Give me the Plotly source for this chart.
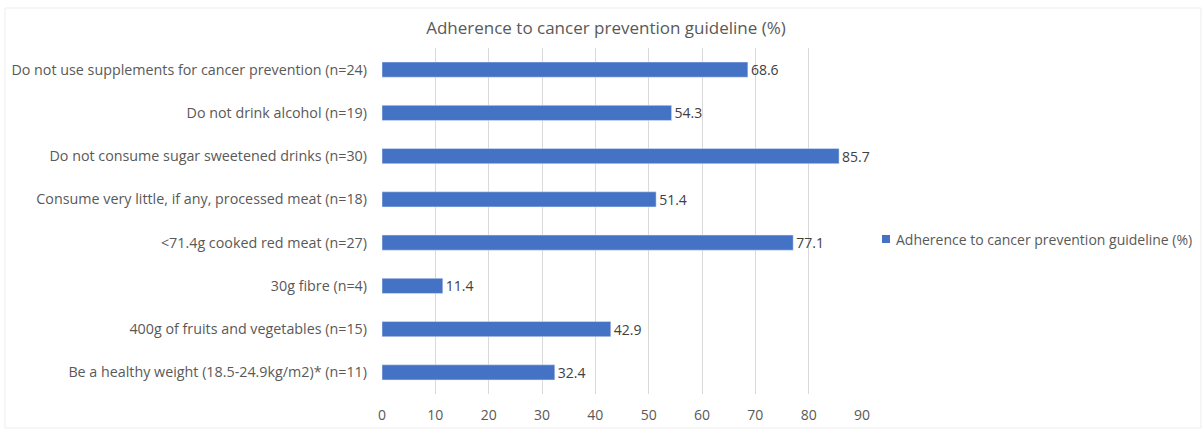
import plotly.graph_objects as go

categories = [
    "Do not use supplements for cancer prevention (n=24)",
    "Do not drink alcohol (n=19)",
    "Do not consume sugar sweetened drinks (n=30)",
    "Consume very little, if any, processed meat (n=18)",
    "<71.4g cooked red meat (n=27)",
    "30g fibre (n=4)",
    "400g of fruits and vegetables (n=15)",
    "Be a healthy weight (18.5-24.9kg/m2)* (n=11)",
]
values = [68.6, 54.3, 85.7, 51.4, 77.1, 11.4, 42.9, 32.4]
series_name = "Adherence to cancer prevention guideline (%)"
x_ticks = [0, 10, 20, 30, 40, 50, 60, 70, 80, 90]

FONT = "Open Sans, sans-serif"
BAR = "#4472C4"

fig = go.Figure(go.Bar(
    y=categories[::-1],
    x=values[::-1],
    orientation="h",
    name=series_name,
    marker=dict(color=BAR),
    width=0.35,
    text=[f"{v:.1f}" for v in values[::-1]],
    textposition="outside",
    constraintext="none",
    textfont=dict(size=14, color="#404040", family=FONT),
    cliponaxis=False,
    showlegend=False,
))

W, H = 1203, 429
L, R, T, B = 382, 341, 48, 35
pw, ph = W - L - R, H - T - B

def px_x(p):
    return (p - L) / pw

def px_y(p):
    return (H - B - p) / ph

fig.update_layout(
    width=W, height=H,
    margin=dict(l=L, r=R, t=T, b=B),
    paper_bgcolor="white",
    plot_bgcolor="white",
    font=dict(family=FONT, size=14, color="#595959"),
    title=dict(text=series_name, x=606 / W, xanchor="center",
               y=1 - 28 / H, yanchor="middle",
               font=dict(size=17, color="#595959", family=FONT)),
    xaxis=dict(range=[0, 90], tickvals=x_ticks, showgrid=True, gridcolor="#D9D9D9",
               gridwidth=1, zeroline=False, showline=False, ticks="",
               ticklabelstandoff=11, automargin=False,
               tickfont=dict(size=14, color="#595959")),
    yaxis=dict(showgrid=False, ticks="", ticklen=0, showline=False,
               ticklabelstandoff=14,
               tickfont=dict(size=14.3, color="#595959"), automargin=False),
    showlegend=False,
    annotations=[dict(text=series_name, xref="paper", yref="paper",
                      x=px_x(894), xanchor="left", y=px_y(239), yanchor="middle",
                      showarrow=False, font=dict(size=14, color="#595959", family=FONT))],
    shapes=[
        dict(type="rect", xref="paper", yref="paper",
             x0=px_x(882), x1=px_x(890), y0=px_y(243), y1=px_y(235),
             line=dict(width=0), fillcolor=BAR),
        dict(type="rect", xref="paper", yref="paper",
             x0=px_x(5), x1=px_x(1201), y0=px_y(428), y1=px_y(8),
             line=dict(color="#EDEDED", width=1), layer="below"),
    ],
)

fig.write_html("out.html")
